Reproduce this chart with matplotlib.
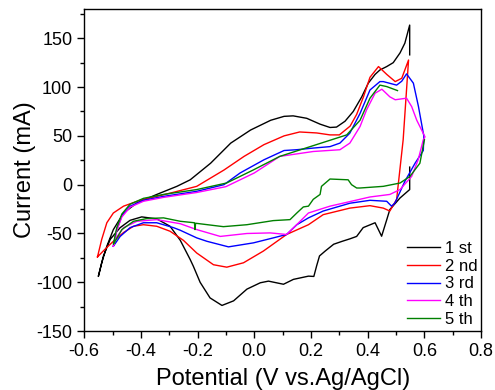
import matplotlib
matplotlib.use("Agg")
import matplotlib.pyplot as plt
from matplotlib.ticker import MultipleLocator, FormatStrFormatter

plt.rcParams['font.family'] = ['Liberation Sans', 'DejaVu Sans']
plt.rcParams['axes.unicode_minus'] = False

# cycle 1 (black): cathodic branch first, then anodic branch
x1 = [0.548, 0.548, 0.514, 0.478, 0.467, 0.449, 0.426, 0.384, 0.361, 0.337, 0.31, 0.28,
      0.25, 0.23, 0.22, 0.21, 0.191, 0.138, 0.103, 0.05, 0.021, -0.026, -0.073, -0.114,
      -0.156, -0.191, -0.215, -0.226, -0.261, -0.297, -0.344, -0.397, -0.438, -0.473,
      -0.508, -0.532, -0.55,
      -0.538, -0.52, -0.497, -0.461, -0.414, -0.344, -0.273, -0.226, -0.154, -0.083,
      -0.013, 0.058, 0.105, 0.137, 0.185, 0.232, 0.267, 0.29, 0.32, 0.349, 0.379, 0.402,
      0.426, 0.443, 0.467, 0.49, 0.514, 0.531, 0.548, 0.548]
y1 = [18, -5, -13.6, -25.5, -36, -52.8, -39, -44, -53, -55.5, -58, -61,
      -68, -73, -83, -94, -93.7, -97, -102, -98.8, -100.5, -107, -119, -123.7,
      -116, -100, -83.5, -76.7, -57, -42.6, -35, -33, -36.5, -44,
      -56, -73, -94,
      -80, -63, -46, -29, -18.7, -10, -1.7, 5, 22, 42.6,
      56, 66, 70, 70.5, 68, 62, 58.6, 59, 65, 75, 90, 104,
      113, 117.5, 121, 125, 135, 145, 163.5, 133]

# cycle 2 (red)
x2 = [-0.553, -0.538, -0.52, -0.497, -0.461, -0.403, -0.344, -0.285, -0.203, -0.107,
      -0.036, 0.034, 0.105, 0.16, 0.22, 0.267, 0.3, 0.338, 0.361, 0.385, 0.408, 0.438,
      0.467, 0.497, 0.52, 0.544,
      0.525, 0.502, 0.478, 0.455, 0.408, 0.337, 0.243, 0.191, 0.114, 0.032, -0.038,
      -0.097, -0.144, -0.203, -0.25, -0.297, -0.344, -0.391, -0.426, -0.461, -0.497,
      -0.526, -0.553]
y2 = [-74, -56, -39, -29, -22, -16, -12, -7.8, -1.7, 15,
      29, 41, 50, 54, 53, 51, 51, 60, 72, 90, 110, 121,
      113, 105.6, 109, 127.7,
      46, -15, -27, -24, -21.5, -24, -30.7, -41, -51, -68, -80,
      -84.5, -82, -70, -57, -47.7, -42.6, -41, -42.6, -49, -58,
      -66, -74]

# cycle 3 (blue)
x3 = [-0.497, -0.485, -0.467, -0.438, -0.391, -0.32, -0.203, -0.107, -0.05, 0.034, 0.105,
      0.149, 0.208, 0.267, 0.302, 0.337, 0.373, 0.408, 0.443, 0.455, 0.502, 0.52, 0.537,
      0.561, 0.579, 0.596, 0.598, 0.596, 0.567, 0.531, 0.496, 0.484, 0.467,
      0.408, 0.337, 0.243, 0.191, 0.15, 0.114, 0.067, -0.003, -0.091, -0.167, -0.203,
      -0.261, -0.285, -0.344, -0.391, -0.438, -0.473, -0.497]
y3 = [-63, -46, -32, -22, -16, -12, -6.8, 0, 12, 25.5, 35,
      35.8, 37.5, 39, 42.6, 52.8, 73, 97, 105.6, 105.6, 102, 106, 113.5,
      104, 80, 52.8, 50, 35, 22, 3.4, -18.7, -22, -17,
      -16, -19, -27, -34, -41, -51, -54.5, -59.6, -63.7, -58, -54.5,
      -46.7, -44, -39, -39, -44, -53, -63]

# cycle 4 (magenta)
x4 = [-0.497, -0.485, -0.467, -0.438, -0.391, -0.32, -0.203, -0.1, 0.0, 0.09, 0.208,
      0.302, 0.337, 0.373, 0.396, 0.426, 0.45, 0.478, 0.497, 0.537, 0.555, 0.573, 0.602,
      0.596, 0.578, 0.555, 0.514, 0.478, 0.408, 0.267, 0.191, 0.144, 0.114, 0.056,
      -0.026, -0.12, -0.203, -0.261, -0.344, -0.414, -0.461, -0.491, -0.497]
y4 = [-63, -47, -33, -23, -17, -13, -8, -2, 12, 29, 34,
      35.8, 42.6, 59.6, 76.7, 93.7, 97.8, 90, 87, 88.6, 80, 66, 49,
      46, 25.6, 8.5, -5, -10, -12.6, -22, -29, -42.6, -51, -49.4,
      -50, -53, -46, -40, -35.8, -37.5, -44, -56, -63]

# cycle 5 (green)
x5 = [0.6, 0.584, 0.549, 0.514, 0.455, 0.373, 0.361, 0.343, 0.331, 0.267, 0.237,
      0.232, 0.208, 0.191, 0.173, 0.15, 0.126, 0.067, -0.026, -0.109, -0.207, -0.209,
      -0.211, -0.261, -0.32, -0.379, -0.426, -0.467, -0.491, -0.497,
      -0.485, -0.467, -0.438, -0.391, -0.32, -0.203, -0.098, -0.004, 0.09, 0.208, 0.326,
      0.373, 0.408, 0.443, 0.467, 0.505]
y5 = [46, 22, 8.5, 1.7, -1.7, -3.4, -3.4, 0, 5, 5.8, -1.7,
      -10, -15, -22, -22.8, -29, -35.8, -36.8, -41, -43, -39.5, -46,
      -39, -37.5, -34, -34.7, -37.5, -46, -58, -61,
      -44, -30, -20, -14, -10, -5, 1.7, 15, 29, 40, 51,
      66, 88.6, 102, 100.5, 96.4]

fig = plt.figure(figsize=(4.95, 3.9), dpi=100)
ax = fig.add_axes([0.170, 0.151, 0.802, 0.826])

ax.plot(x1, y1, color='black', linewidth=1, label='1 st')
ax.plot(x2, y2, color='#ff0000', linewidth=1, label='2 nd')
ax.plot(x3, y3, color='#0000ff', linewidth=1, label='3 rd')
ax.plot(x4, y4, color='#ff00ff', linewidth=1, label='4 th')
ax.plot(x5, y5, color='#008000', linewidth=1, label='5 th')

ax.set_xlim(-0.6, 0.8)
ax.set_ylim(-150, 180)
ax.xaxis.set_major_locator(MultipleLocator(0.2))
ax.xaxis.set_minor_locator(MultipleLocator(0.1))
ax.yaxis.set_major_locator(MultipleLocator(50))
ax.yaxis.set_minor_locator(MultipleLocator(25))
ax.xaxis.set_major_formatter(FormatStrFormatter('%.1f'))
ax.tick_params(which='major', direction='out', length=5, width=1, labelsize=13)
ax.tick_params(which='minor', direction='out', length=3, width=1)
ax.tick_params(top=False, right=False)
for s in ax.spines.values():
    s.set_linewidth(1)

ax.set_xlabel('Potential (V vs.Ag/AgCl)', fontsize=17, labelpad=6)
ax.set_ylabel('Current (mA)', fontsize=17, labelpad=0)

ax.legend(loc='lower right', bbox_to_anchor=(1.015, -0.015), frameon=False, fontsize=12,
          handlelength=2.0, handletextpad=0.3, labelspacing=0.16, borderaxespad=0.15)

fig.savefig('out.png', dpi=100)
